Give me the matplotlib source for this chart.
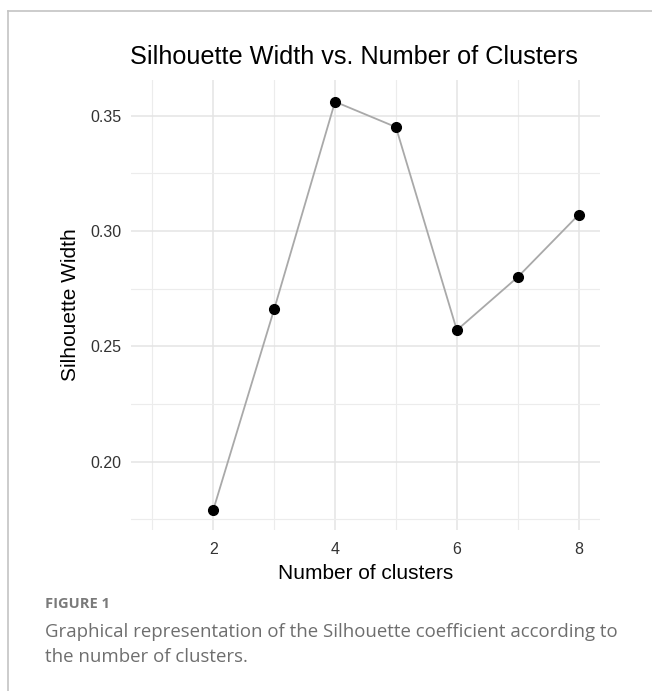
import matplotlib.pyplot as plt
from matplotlib.lines import Line2D
from matplotlib.ticker import MultipleLocator

# Silhouette width by number of clusters
n_clusters = [2, 3, 4, 5, 6, 7, 8]
silhouette = [0.179, 0.266, 0.356, 0.345, 0.257, 0.280, 0.307]

x_ticks = [2, 4, 6, 8]
y_ticks = [0.20, 0.25, 0.30, 0.35]

plt.rcParams['font.family'] = ['Liberation Sans', 'DejaVu Sans']

fig = plt.figure(figsize=(6.52, 6.91), dpi=100)
ax = fig.add_axes([0.2009, 0.2330, 0.7193, 0.6512])

# Grid like ggplot theme_minimal
ax.set_axisbelow(True)
ax.xaxis.set_minor_locator(MultipleLocator(1))
ax.yaxis.set_minor_locator(MultipleLocator(0.025))
ax.grid(which='major', color='#e4e4e4', linewidth=1.1)
ax.grid(which='minor', color='#ececec', linewidth=0.8)

ax.plot(n_clusters, silhouette, color='#a9a9a9', linewidth=1.3, zorder=2)
ax.plot(n_clusters, silhouette, 'o', color='black', markersize=7, zorder=3)

ax.set_xlim(0.65, 8.35)
ax.set_ylim(0.1704, 0.3654)
ax.set_xticks(x_ticks)
ax.set_xticklabels([str(v) for v in x_ticks])
ax.set_yticks(y_ticks)
ax.set_yticklabels([f'{v:.2f}' for v in y_ticks])
ax.tick_params(which='both', length=0, labelsize=11.5, colors='#333333')
ax.tick_params(axis='x', pad=9)
ax.tick_params(axis='y', pad=7)
ax.tick_params(which='minor', labelbottom=False, labelleft=False)
for s in ax.spines.values():
    s.set_visible(False)

ax.set_xlabel('Number of clusters', fontsize=15, color='black', labelpad=5)
ax.set_ylabel('Silhouette Width', fontsize=15, color='black', labelpad=7)

fig.text(354 / 652, 1 - 57 / 691, 'Silhouette Width vs. Number of Clusters',
         ha='center', va='center', fontsize=18.2, color='black')

# frame lines of the page
fig.add_artist(Line2D([8 / 652, 1.0], [1 - 11 / 691, 1 - 11 / 691],
                      transform=fig.transFigure, color='#c4c4c4', linewidth=1.2))
fig.add_artist(Line2D([8 / 652, 8 / 652], [0.0, 1 - 11 / 691],
                      transform=fig.transFigure, color='#c4c4c4', linewidth=1.2))

# caption
cap_font = ['Open Sans', 'DejaVu Sans']
fig.text(45 / 652, 1 - 604 / 691, 'FIGURE 1', ha='left', va='center',
         fontsize=10.5, color='#7a7a7a', fontweight='bold', family=cap_font)
fig.text(45 / 652, 1 - 632 / 691,
         'Graphical representation of the Silhouette coefficient according to',
         ha='left', va='center', fontsize=13.4, color='#6e6e6e', family=cap_font)
fig.text(45 / 652, 1 - 657 / 691, 'the number of clusters.',
         ha='left', va='center', fontsize=13.4, color='#6e6e6e', family=cap_font)

fig.savefig('out.png', dpi=100, facecolor='white')
